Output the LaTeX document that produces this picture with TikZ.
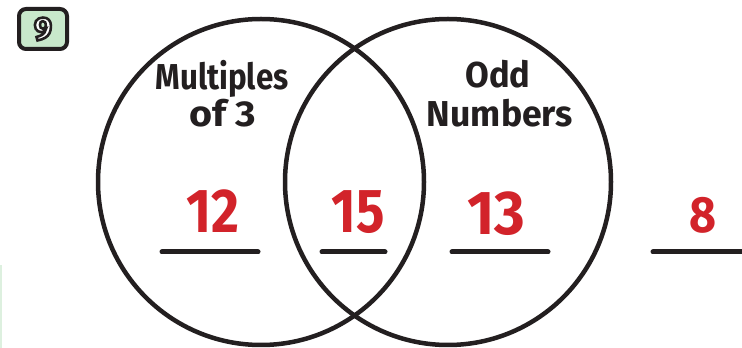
\documentclass[tikz,border=0pt]{standalone}
\usepackage{fontspec}
\usepackage{graphicx}
\setmainfont{Fira Sans}
\newfontfamily\ninefont{Fira Sans Bold}[FakeBold=8]
\definecolor{ink}{HTML}{231F20}
\definecolor{numred}{HTML}{D2232A}
\definecolor{badge}{HTML}{C8E8CB}
\definecolor{strip}{HTML}{DDF0DF}
\tikzset{
  ring/.style={draw=ink, line width=4.5pt},
  blank/.style={draw=ink, line width=5pt, line cap=round},
  lbl/.style={inner sep=0pt, text=ink, font=\bfseries},
  num/.style={inner sep=0pt, text=numred, font=\bfseries},
}
\newcommand{\fitw}[3]{\resizebox{#1pt}{\height}{\fontsize{#2}{#2}\selectfont #3}}
\begin{document}
\begin{tikzpicture}[x=1pt,y=1pt]
\useasboundingbox (0,0) rectangle (742,348);
\fill[white] (0,0) rectangle (742,348);
\fill[strip] (0,0) rectangle (2,83);
% badge
\node[draw=ink, fill=badge, line width=4pt, rounded corners=7pt, minimum width=48pt, minimum height=40pt, inner sep=0pt] (badge) at (43,319) {};
\node[inner sep=0pt, text=white, font=\ninefont\fontsize{32}{32}\selectfont] (nine) at (badge.center) {\special{pdf:code 0.137 0.122 0.125 RG}9};
% circles
\node[ring, circle, minimum size=326pt, inner sep=0pt] (left) at (261,166) {};
\node[ring, circle, minimum size=326pt, inner sep=0pt] (right) at (448,166) {};
% labels
\node[lbl, anchor=base] (m1) at (222,258) {\fitw{133}{36}{Multiples}};
\node[lbl, anchor=base] (m2) at (223,221) {\fitw{67}{36}{of 3}};
\node[lbl, anchor=base] (o1) at (498,260) {\fitw{65}{36}{Odd}};
\node[lbl, anchor=base] (o2) at (500,221) {\fitw{146}{36}{Numbers}};
% numbers
\node[num, anchor=base] (n12) at (213,115) {\fitw{53}{62}{12}};
\node[num, anchor=base] (n15) at (358,115) {\fitw{53}{62}{15}};
\node[num, anchor=base] (n13) at (496,113) {\fitw{58}{62}{13}};
\node[num, anchor=base] (n8) at (703,115) {\fitw{27}{51}{8}};
% answer lines
\coordinate (a1) at (162,96); \coordinate (b1) at (258,96);
\coordinate (a2) at (322,96); \coordinate (b2) at (385,96);
\coordinate (a3) at (452,96); \coordinate (b3) at (548,96);
\coordinate (a4) at (653,96); \coordinate (b4) at (760,96);
\draw[blank] (a1) -- (b1);
\draw[blank] (a2) -- (b2);
\draw[blank] (a3) -- (b3);
\draw[blank] (a4) -- (b4);
\end{tikzpicture}
\end{document}
